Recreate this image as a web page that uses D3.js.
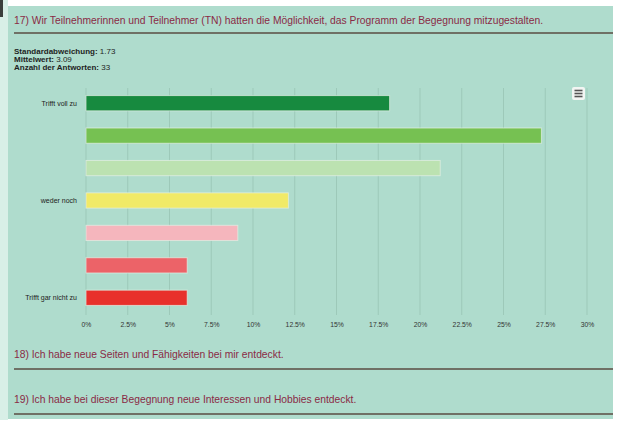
<!DOCTYPE html>
<html>
<head>
<meta charset="utf-8">
<script src="https://cdn.jsdelivr.net/npm/d3@7"></script>
<style>
  body { margin: 0; background: #fff; }
  svg { display: block; font-family: "Liberation Sans", Arial, sans-serif; }
</style>
</head>
<body>
<div id="chart"></div>
<script>
// Answer categories (top to bottom) and share of answers in percent
const categories = ["1", "2", "3", "4", "5", "6", "7"];
const categoryLabels = ["Trifft voll zu", "", "", "weder noch", "", "", "Trifft gar nicht zu"];
const counts = [6, 9, 7, 4, 3, 2, 2];
const percentValues = [18.18, 27.27, 21.21, 12.12, 9.09, 6.06, 6.06];
const barColors = ["#178a3f", "#76c152", "#bce2b1", "#f1ea67", "#f5b6bd", "#ec6368", "#e8302b"];
const xTicks = [0, 2.5, 5, 7.5, 10, 12.5, 15, 17.5, 20, 22.5, 25, 27.5, 30];

const statLines = [
  ["Standardabweichung:", "1.73"],
  ["Mittelwert:", "3.09"],
  ["Anzahl der Antworten:", "33"]
];
const questionTitle = "17) Wir Teilnehmerinnen und Teilnehmer (TN) hatten die Möglichkeit, das Programm der Begegnung mitzugestalten.";
const nextQuestions = [
  "18) Ich habe neue Seiten und Fähigkeiten bei mir entdeckt.",
  "19) Ich habe bei dieser Begegnung neue Interessen und Hobbies entdeckt."
];

const width = 620, height = 425;
const panelColor = "#afdccd";
const titleColor = "#8a2a45";

const svg = d3.select("#chart").append("svg")
  .attr("width", width)
  .attr("height", height);

// page frame
svg.append("rect").attr("x", 0).attr("y", 0).attr("width", width).attr("height", height).attr("fill", "#fff");
svg.append("rect").attr("x", 0).attr("y", 0).attr("width", 8).attr("height", 420).attr("fill", "#d8efe7");
svg.append("rect").attr("x", 0).attr("y", 0).attr("width", 3).attr("height", 17).attr("fill", "#3a3f3c");
svg.append("rect").attr("x", 8).attr("y", 6).attr("width", 605).attr("height", 413).attr("fill", panelColor);

// question title + divider
svg.append("text")
  .attr("x", 14).attr("y", 24)
  .style("font-size", "10.3px")
  .style("fill", titleColor)
  .text(questionTitle);
svg.append("rect").attr("x", 14).attr("y", 32).attr("width", 599).attr("height", 2).attr("fill", "#6f7065");

// statistics block
statLines.forEach((s, i) => {
  const t = svg.append("text")
    .attr("x", 14).attr("y", 54 + i * 8)
    .style("font-size", "8px")
    .style("fill", "#1e1e1e");
  t.append("tspan").style("font-weight", "bold").text(s[0]);
  t.append("tspan").text(" " + s[1]);
});

// chart scales
const x = d3.scaleLinear().domain([0, 30]).range([86, 587]);
const y = d3.scaleBand()
  .domain(categories)
  .range([87, 314])
  .paddingInner(0.53)
  .paddingOuter(0.265);

// vertical gridlines
svg.append("g")
  .selectAll("line")
  .data(xTicks)
  .join("line")
  .attr("x1", d => x(d)).attr("x2", d => x(d))
  .attr("y1", 88).attr("y2", 315)
  .attr("stroke", "#9dc9b9")
  .attr("stroke-width", 1);

// bars
svg.append("g")
  .selectAll("rect")
  .data(categories)
  .join("rect")
  .attr("x", x(0))
  .attr("y", d => y(d))
  .attr("width", (d, i) => x(percentValues[i]) - x(0))
  .attr("height", y.bandwidth())
  .attr("fill", (d, i) => barColors[i])
  .attr("stroke", "#e4efe6")
  .attr("stroke-opacity", 0.7)
  .attr("stroke-width", 1);

// category labels
svg.append("g")
  .selectAll("text")
  .data(categories)
  .join("text")
  .attr("x", 77)
  .attr("y", d => y(d) + y.bandwidth() / 2)
  .attr("dy", "0.35em")
  .attr("text-anchor", "end")
  .style("font-size", "7px")
  .style("fill", "#222")
  .text((d, i) => categoryLabels[i]);

// x axis labels
const xAxis = d3.axisBottom(x)
  .tickValues(xTicks)
  .tickSize(0)
  .tickPadding(0)
  .tickFormat(d => d + "%");
const axisG = svg.append("g")
  .attr("transform", "translate(0,322)")
  .call(xAxis);
axisG.select(".domain").remove();
axisG.selectAll("text")
  .style("font-family", "'Liberation Sans', Arial, sans-serif")
  .style("font-size", "6.8px")
  .style("fill", "#333");

// export menu button
const menu = svg.append("g").attr("transform", "translate(572,87)");
menu.append("rect").attr("width", 13).attr("height", 13).attr("rx", 2).attr("fill", "#f2f5f3");
[3.5, 6.5, 9.5].forEach(yy => {
  menu.append("line").attr("x1", 2.5).attr("x2", 10.5).attr("y1", yy).attr("y2", yy)
    .attr("stroke", "#555").attr("stroke-width", 1.6);
});

// following questions
nextQuestions.forEach((q, i) => {
  const base = 358 + i * 45;
  svg.append("text")
    .attr("x", 14).attr("y", base)
    .style("font-size", "10.3px")
    .style("fill", titleColor)
    .text(q);
  svg.append("rect").attr("x", 14).attr("y", base + 10).attr("width", 599).attr("height", 2).attr("fill", "#6f7065");
});
</script>
</body>
</html>
